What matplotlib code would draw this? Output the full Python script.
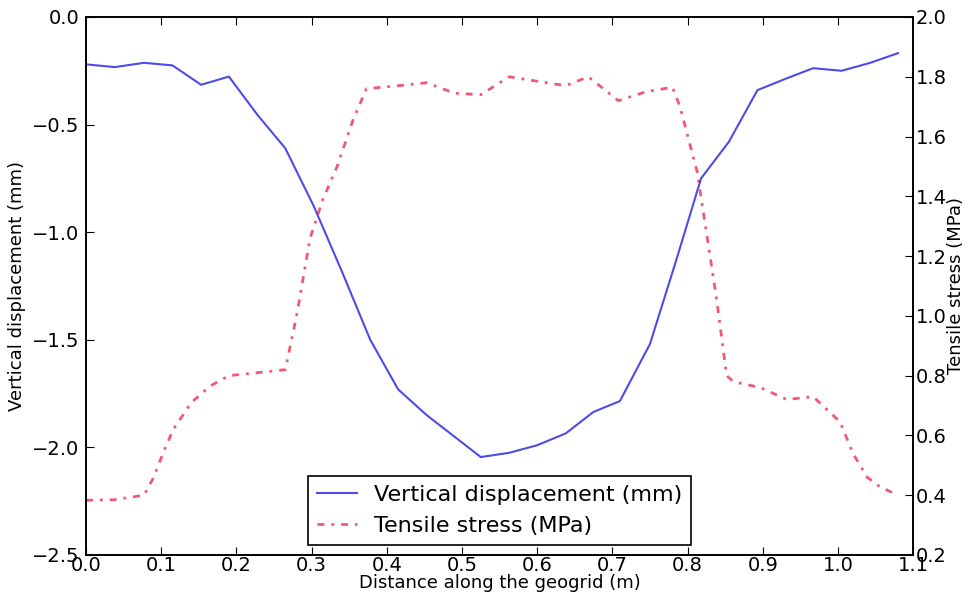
import matplotlib
matplotlib.use('Agg')
from matplotlib import pyplot as plt

# blue curve: vertical displacement (mm)
disp_x = [0.0, 0.038, 0.077, 0.115, 0.153, 0.19, 0.228, 0.265, 0.303, 0.34,
          0.378, 0.415, 0.453, 0.49, 0.525, 0.563, 0.6, 0.638, 0.675, 0.71,
          0.75, 0.785, 0.818, 0.855, 0.893, 0.932, 0.967, 1.005, 1.043, 1.08]
disp_y = [-0.22, -0.233, -0.213, -0.225, -0.315, -0.277, -0.455, -0.61, -0.88, -1.18,
          -1.5, -1.73, -1.85, -1.95, -2.045, -2.025, -1.99, -1.935, -1.835, -1.785,
          -1.52, -1.13, -0.75, -0.58, -0.34, -0.285, -0.238, -0.25, -0.213, -0.168]

# red curve: tensile stress (MPa)
stress_x = [0.0, 0.038, 0.077, 0.09, 0.103, 0.116, 0.14, 0.165, 0.19, 0.228,
            0.265, 0.28, 0.298, 0.315, 0.334, 0.355, 0.373, 0.415, 0.453, 0.49,
            0.525, 0.563, 0.6, 0.638, 0.668, 0.708, 0.745, 0.78, 0.79, 0.813,
            0.839, 0.852, 0.861, 0.897, 0.932, 0.967, 1.003, 1.02, 1.039, 1.056, 1.08]
stress_y = [0.383, 0.385, 0.40, 0.46, 0.545, 0.62, 0.71, 0.765, 0.80, 0.81,
            0.82, 1.0, 1.26, 1.39, 1.50, 1.655, 1.76, 1.77, 1.78, 1.745,
            1.74, 1.80, 1.785, 1.77, 1.80, 1.72, 1.75, 1.765, 1.70, 1.48,
            1.05, 0.80, 0.78, 0.76, 0.72, 0.73, 0.645, 0.54, 0.46, 0.428, 0.40]

fig = plt.figure(figsize=(9.69, 6.0), dpi=100)
ax1 = fig.add_axes([0.0888, 0.075, 0.8535, 0.8967])
ax2 = ax1.twinx()

l1, = ax1.plot(disp_x, disp_y, '-', color='#0000dd', alpha=0.7, lw=1.5,
               label='Vertical displacement (mm)')
l2, = ax2.plot(stress_x, stress_y, color='#e8002a', alpha=0.65, lw=2,
               linestyle=(0, (2.5, 2.5, 1, 2.5)),
               label='Tensile stress (MPa)')

ax1.set_xlim(0.0, 1.1)
ax1.set_ylim(-2.5, 0.0)
ax2.set_ylim(0.2, 2.0)
ax1.set_xticks([i / 10 for i in range(12)])
ax1.set_yticks([-2.5, -2.0, -1.5, -1.0, -0.5, 0.0])
ax2.set_yticks([0.2, 0.4, 0.6, 0.8, 1.0, 1.2, 1.4, 1.6, 1.8, 2.0])
ax1.xaxis.set_major_formatter(plt.FormatStrFormatter('%.1f'))
ax2.yaxis.set_major_formatter(plt.FormatStrFormatter('%.1f'))
ax1.yaxis.set_major_formatter(plt.FuncFormatter(lambda v, p: ('%.1f' % v).replace('-', '\u2212')))

ax1.tick_params(axis='x', direction='in', top=True, length=6, labelsize=14, pad=1)
ax1.tick_params(axis='y', direction='in', length=6, labelsize=14, pad=5)
ax2.tick_params(axis='y', direction='in', length=6, labelsize=14, pad=2)
for a in (ax1, ax2):
    for s in a.spines.values():
        s.set_linewidth(1.2)

ax1.set_xlabel('Distance along the geogrid (m)', fontsize=13, labelpad=-1)
ax1.set_ylabel('Vertical displacement (mm)', fontsize=13, labelpad=4)
ax2.set_ylabel('Tensile stress (MPa)', fontsize=13, labelpad=0)

leg = ax1.legend([l1, l2], [l1.get_label(), l2.get_label()], loc='lower center',
                 fontsize=16, fancybox=False, framealpha=1, edgecolor='black',
                 borderaxespad=0.45, handlelength=1.8)
leg.get_frame().set_linewidth(1.2)

plt.savefig('out.png', dpi=100)
